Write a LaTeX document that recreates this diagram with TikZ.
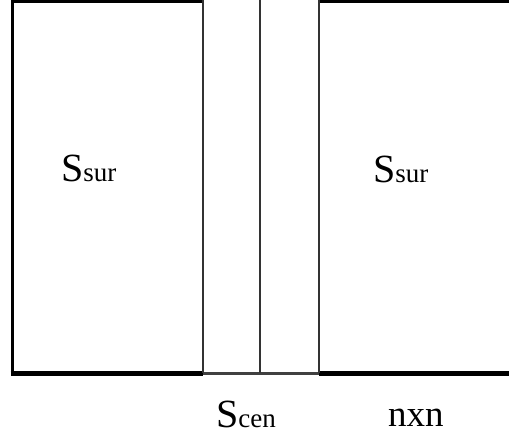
\documentclass[tikz,border=0pt]{standalone}
\usepackage{fontspec}
\setmainfont{Liberation Serif}
\usepackage{tikz}
\usetikzlibrary{positioning}
\newcommand{\subtxt}[1]{{\fontsize{27}{27}\selectfont #1}}

\begin{document}
\begin{tikzpicture}[
  x=1pt, y=-1pt,
  frame/.style={line width=3pt, black},
  rim/.style={line width=4.5pt, black},
  divider/.style={line width=2.3pt, black!80},
  seam/.style={line width=3pt, black!75},
  lbl/.style={inner sep=0pt, anchor=base west, font=\rmfamily\fontsize{40}{40}\selectfont},
]
\useasboundingbox (0,0) rectangle (509,438);
% ---------- outer frame ----------
\draw[frame] (12,0) -- (12,376);
\draw[rim] (10.5,1) -- (203,1);
\draw[rim] (319,1) -- (509,1);
\draw[rim] (10.5,373.5) -- (203,373.5);
\draw[rim] (319,373.5) -- (509,373.5);
\draw[seam] (203,373.5) -- (319,373.5);
% ---------- central strip ----------
\foreach \x in {203,260,319}
  \draw[divider] (\x,0) -- (\x,373);
% ---------- labels ----------
\node[lbl] (surl) at (61,182) {S\subtxt{sur}};
\node[lbl] (surr) at (373,183) {S\subtxt{sur}};
\node[lbl] (cen) at (216,428) {S\subtxt{cen}};
\node[lbl, font=\rmfamily\fontsize{37}{37}\selectfont] (nxn) at (388,427) {nxn};
\end{tikzpicture}
\end{document}
